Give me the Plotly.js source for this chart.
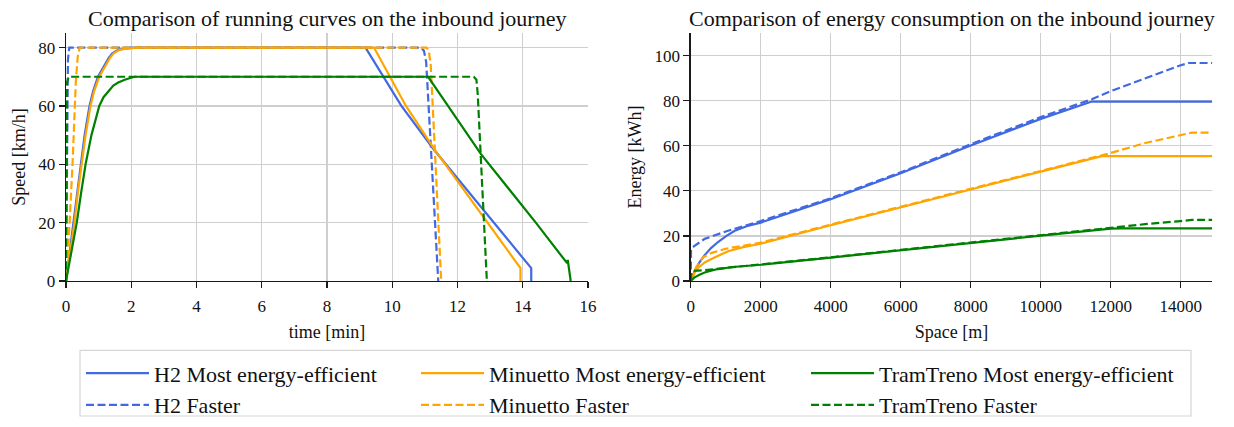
<!DOCTYPE html>
<html>
<head>
<meta charset="utf-8">
<script src="https://cdn.plot.ly/plotly-3.0.1.min.js"></script>
<style>html,body{margin:0;padding:0;background:#fff;}#chart{width:1234px;height:427px;}</style>
</head>
<body>
<div id="chart"></div>
<script>
// ---------- Running curves (time [min] vs speed [km/h]) ----------
const h2EffT   = [0, 0.11, 0.23, 0.33, 0.44, 0.57, 0.72, 0.83, 0.98, 1.08, 1.21, 1.31, 1.42, 1.56, 1.71, 2.05, 9.18, 10.28, 11.28, 14.26, 14.26];
const h2EffV   = [0, 10, 20, 30, 40, 50, 60, 65, 70, 72, 75, 76.5, 78, 79, 79.5, 80, 80, 60, 45, 4.4, 0];
const h2FastT  = [0, 0.04, 0.06, 0.1, 10.85, 10.97, 11.04, 11.41];
const h2FastV  = [0, 40, 76, 80, 80, 79, 75, 0];
const minEffT  = [0, 0.14, 0.26, 0.36, 0.47, 0.6, 0.75, 0.86, 1.02, 1.12, 1.25, 1.35, 1.46, 1.6, 1.75, 2.15, 9.44, 10.42, 11.3, 13.93, 13.93];
const minEffV  = [0, 10, 20, 30, 40, 50, 60, 65, 70, 72, 75, 76.5, 78, 79, 79.5, 80, 80, 60, 45, 4.4, 0];
const minFastT = [0.02, 0.2, 0.3, 0.36, 0.42, 11.05, 11.12, 11.18, 11.5];
const minFastV = [0, 40, 68, 77, 80, 80, 79, 74, 0];
const ttEffT   = [0, 0.17, 0.33, 0.46, 0.6, 0.78, 0.92, 1.02, 1.15, 1.3, 1.45, 1.6, 1.8, 2.1, 11.1, 12.72, 14.4, 15.36, 15.38, 15.47];
const ttEffV   = [0, 10, 20, 30, 40, 50, 56, 60, 63, 65, 67, 68, 69, 70, 70, 43.5, 20, 6.1, 7.2, 0];
const ttFastT  = [0, 0.02, 0.03, 0.08, 12.5, 12.58, 12.62, 12.9];
const ttFastV  = [0, 40, 68, 70, 70, 69, 64, 0];

// ---------- Energy consumption (space [m] vs energy [kWh]) ----------
const h2EffS   = [0, 114, 250, 400, 580, 780, 1000, 1257, 1600, 2000, 4000, 6000, 8000, 10000, 11457, 14900];
const h2EffE   = [0, 4.3, 8.3, 11.5, 14.6, 17.3, 19.8, 22.3, 24.3, 25.9, 36.3, 47.8, 60.1, 71.9, 79.6, 79.6];
const h2FastS  = [0, 10, 100, 400, 1067, 2000, 4000, 6000, 8000, 10000, 11457, 12000, 14000, 14219, 14900];
const h2FastE  = [0, 14, 15.5, 18.7, 22.3, 26.6, 36.7, 48.2, 60.7, 72.7, 80.6, 84.2, 95.7, 96.7, 96.7];
const minEffS  = [0, 100, 210, 400, 590, 800, 1067, 1500, 2000, 4000, 6000, 8000, 10000, 11743, 14900];
const minEffE  = [0, 3.4, 5.8, 8.2, 9.8, 11.4, 13.2, 15.0, 16.5, 24.7, 32.8, 40.6, 48.5, 55.4, 55.4];
const minFastS = [0, 150, 350, 600, 1000, 2000, 4000, 6000, 8000, 10000, 11743, 12000, 12981, 14000, 14314, 14900];
const minFastE = [0, 6, 10.5, 12.5, 14.3, 17, 25, 33.1, 40.9, 48.8, 55.6, 56.8, 61.2, 64.7, 65.8, 65.8];
const ttEffS   = [0, 100, 250, 400, 580, 780, 1200, 2000, 4000, 6000, 8000, 10000, 12000, 12300, 14900];
const ttEffE   = [0, 1.5, 2.8, 3.8, 4.6, 5.3, 6.2, 7.2, 10.4, 13.7, 17.0, 20.1, 23.2, 23.3, 23.3];
const ttFastS  = [0, 20, 60, 400, 1000, 2000, 4000, 6000, 8000, 10000, 12000, 12981, 14000, 14314, 14900];
const ttFastE  = [0, 3.5, 4.5, 4.8, 5.8, 7.3, 10.5, 13.8, 17.1, 20.2, 23.4, 25.2, 26.6, 27.1, 27.1];

const seriesNames = ["H2 Most energy-efficient", "H2 Faster",
                     "Minuetto Most energy-efficient", "Minuetto Faster",
                     "TramTreno Most energy-efficient", "TramTreno Faster"];

const titles = ["Comparison of running curves on the inbound journey",
                "Comparison of energy consumption on the inbound journey"];

const BLUE = "#4169E1", ORANGE = "#FFA500", GREEN = "#008000";
const LW = 2.2, DASH = "8px,3.5px";
const FONT = "Liberation Serif, Times New Roman, serif";

const specs = [
  {name: seriesNames[0], color: BLUE,   dash: "solid", lg: "legend",  l: [h2EffT, h2EffV],   r: [h2EffS, h2EffE]},
  {name: seriesNames[1], color: BLUE,   dash: DASH,    lg: "legend",  l: [h2FastT, h2FastV], r: [h2FastS, h2FastE]},
  {name: seriesNames[2], color: ORANGE, dash: "solid", lg: "legend2", l: [minEffT, minEffV], r: [minEffS, minEffE]},
  {name: seriesNames[3], color: ORANGE, dash: DASH,    lg: "legend2", l: [minFastT, minFastV], r: [minFastS, minFastE]},
  {name: seriesNames[4], color: GREEN,  dash: "solid", lg: "legend3", l: [ttEffT, ttEffV],   r: [ttEffS, ttEffE]},
  {name: seriesNames[5], color: GREEN,  dash: DASH,    lg: "legend3", l: [ttFastT, ttFastV], r: [ttFastS, ttFastE]}
];

const traces = [];
specs.forEach(s => {
  traces.push({x: s.l[0], y: s.l[1], type: "scatter", mode: "lines", name: s.name,
    line: {color: s.color, width: LW, dash: s.dash}, xaxis: "x", yaxis: "y",
    legend: s.lg, showlegend: true, hoverinfo: "skip"});
});
specs.forEach(s => {
  traces.push({x: s.r[0], y: s.r[1], type: "scatter", mode: "lines", name: s.name,
    line: {color: s.color, width: LW, dash: s.dash}, xaxis: "x2", yaxis: "y2",
    showlegend: false, hoverinfo: "skip"});
});

const W = 1234, H = 427, T = 32.5, B = 141;
const plotH = H - T - B;
const px = v => v / W;
const py = v => (H - B - v) / plotH;

const axCommon = {
  showgrid: true, gridcolor: "#cfcfcf", gridwidth: 1.2, zeroline: false,
  showline: true, linecolor: "#1a1a1a", linewidth: 1.3, mirror: false,
  ticks: "outside", ticklen: 6, tickwidth: 1.3, tickcolor: "#1a1a1a",
  tickfont: {family: FONT, size: 17, color: "#111"}, automargin: false,
  separatethousands: false, exponentformat: "none"
};
const axTitleFont = {family: FONT, size: 18, color: "#111"};

const legendCommon = {
  orientation: "v", xanchor: "left", yanchor: "top", bgcolor: "rgba(0,0,0,0)",
  borderwidth: 0, font: {family: FONT, size: 22, color: "#111"}, itemwidth: 63,
  tracegroupgap: 0
};

const layout = {
  width: W, height: H,
  margin: {l: 0, r: 0, t: T, b: B, pad: 0},
  paper_bgcolor: "#fff", plot_bgcolor: "#fff",
  font: {family: FONT, color: "#111"},
  xaxis: Object.assign({}, axCommon, {domain: [px(66), px(588)], range: [0, 16], dtick: 2, tick0: 0,
    ticklabelstandoff: 3,
    title: {text: "time [min]", font: axTitleFont, standoff: 10}, anchor: "y"}),
  yaxis: Object.assign({}, axCommon, {domain: [0, 1], range: [0, 85], dtick: 20, tick0: 0,
    title: {text: "Speed [km/h]", font: axTitleFont, standoff: 8}, anchor: "x"}),
  xaxis2: Object.assign({}, axCommon, {domain: [px(690.7), px(1212.3)], range: [0, 14900], dtick: 2000, tick0: 0,
    tickformat: "d", ticklabelstandoff: 3,
    title: {text: "Space [m]", font: axTitleFont, standoff: 10}, anchor: "y2"}),
  yaxis2: Object.assign({}, axCommon, {domain: [0, 1], range: [0, 110], dtick: 20, tick0: 0,
    title: {text: "Energy [kWh]", font: axTitleFont, standoff: 8}, anchor: "x2"}),
  legend:  Object.assign({}, legendCommon, {x: px(81), y: py(359)}),
  legend2: Object.assign({}, legendCommon, {x: px(416), y: py(359)}),
  legend3: Object.assign({}, legendCommon, {x: px(806), y: py(359)}),
  shapes: [{type: "rect", xref: "paper", yref: "paper", x0: px(80), x1: px(1191), y0: py(424), y1: py(357),
    line: {color: "#d6d6d6", width: 1.2}, fillcolor: "rgba(255,255,255,0)", layer: "below"}],
  annotations: [
    {text: titles[0], xref: "paper", yref: "paper", x: px(327), y: 1, xanchor: "center", yanchor: "bottom",
     showarrow: false, font: {family: FONT, size: 22, color: "#111"}},
    {text: titles[1], xref: "paper", yref: "paper", x: px(951.5), y: 1, xanchor: "center", yanchor: "bottom",
     showarrow: false, font: {family: FONT, size: 22, color: "#111"}}
  ],
  hovermode: false
};

Plotly.newPlot("chart", traces, layout, {displayModeBar: false, staticPlot: true});
</script>
</body>
</html>
